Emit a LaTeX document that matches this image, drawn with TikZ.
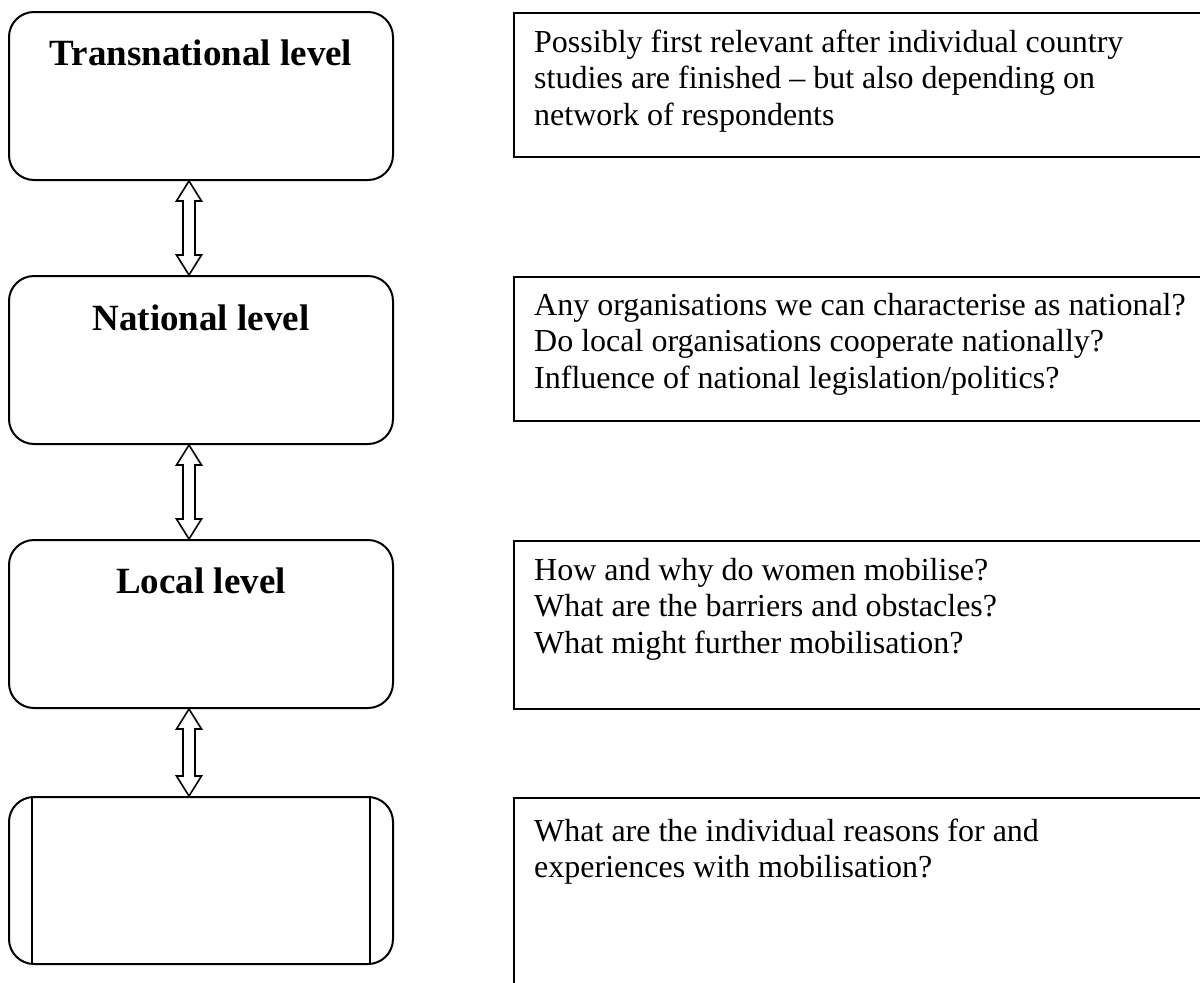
\documentclass[tikz,border=0pt]{standalone}
\usepackage{fontspec}
\setmainfont{Liberation Serif}
\usetikzlibrary{calc}
\newcommand\dblblockarrow[2]{%
  \draw[blockarrow] (#1) -- ($(#1)+(12.5,20)$) -- ($(#1)+(6,20)$) -- ($(#2)+(6,-20)$)
    -- ($(#2)+(12.5,-20)$) -- (#2) -- ($(#2)+(-12.5,-20)$) -- ($(#2)+(-6,-20)$)
    -- ($(#1)+(-6,20)$) -- ($(#1)+(-12.5,20)$) -- cycle;}
\begin{document}
\begin{tikzpicture}[x=1pt,y=-1pt,
  level/.style={draw, line width=2pt, rounded corners=25pt, minimum width=384pt, minimum height=168pt, inner sep=0pt},
  note/.style={draw, line width=1.8pt, anchor=north west, minimum width=720pt, inner sep=0pt},
  title/.style={anchor=base, font=\fontsize{37}{44}\selectfont\bfseries, inner sep=0pt},
  body/.style={anchor=base west, font=\fontsize{32}{37}\selectfont, inner sep=0pt},
  blockarrow/.style={draw, line width=1.6pt, fill=white, line join=miter},
  inner/.style={line width=1.3pt}]
\path[use as bounding box, clip] (0,0) rectangle (1200,983);
\fill[white] (0,0) rectangle (1200,983);

% left level boxes
\node[level] (b1) at (201,96) {};
\node[level] (b2) at (201,360) {};
\node[level] (b3) at (201,624) {};
\node[level, minimum height=167pt] (b4) at (201,880.5) {};
\draw[inner] ([xshift=24pt]b4.north west) -- ([xshift=24pt]b4.south west);
\draw[inner] ([xshift=-24pt]b4.north east) -- ([xshift=-24pt]b4.south east);

\node[title] (t1) at (201,65) {Transnational level};
\node[title] (t2) at (201,330) {National level};
\node[title] (t3) at (201,593) {Local level};

% arrows
\coordinate (a1s) at ([xshift=-12pt]b1.south);
\coordinate (a1e) at ([xshift=-12pt]b2.north);
\coordinate (a2s) at ([xshift=-12pt]b2.south);
\coordinate (a2e) at ([xshift=-12pt]b3.north);
\coordinate (a3s) at ([xshift=-12pt]b3.south);
\coordinate (a3e) at ([xshift=-12pt]b4.north);
\dblblockarrow{a1s}{a1e}
\dblblockarrow{a2s}{a2e}
\dblblockarrow{a3s}{a3e}

% right note boxes
\node[note, minimum height=144pt] (r1) at (513,12) {};
\node[note, minimum height=144pt] (r2) at (513,276) {};
\node[note, minimum height=168pt] (r3) at (513,540) {};
\node[note, minimum height=260pt] (r4) at (513,797) {};

\node[body] (n1a) at (534,52) {Possibly first relevant after individual country};
\node[body] (n1b) at (534,88.5) {studies are finished -- but also depending on};
\node[body] (n1c) at (534,125) {network of respondents};

\node[body] (n2a) at (534,315) {Any organisations we can characterise as national?};
\node[body] (n2b) at (534,351.5) {Do local organisations cooperate nationally?};
\node[body] (n2c) at (534,388) {Influence of national legislation/politics?};

\node[body] (n3a) at (534,580) {How and why do women mobilise?};
\node[body] (n3b) at (534,616.5) {What are the barriers and obstacles?};
\node[body] (n3c) at (534,653) {What might further mobilisation?};

\node[body] (n4a) at (534,841) {What are the individual reasons for and};
\node[body] (n4b) at (534,877.5) {experiences with mobilisation?};
\end{tikzpicture}
\end{document}
